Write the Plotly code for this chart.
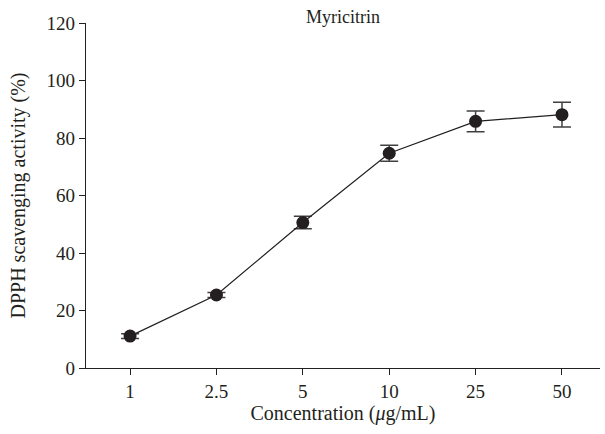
import plotly.graph_objects as go

concentrations = ["1", "2.5", "5", "10", "25", "50"]
activity = [11.1, 25.4, 50.6, 74.7, 85.8, 88.1]
error = [0.8, 0.9, 2.2, 2.8, 3.6, 4.3]

fig = go.Figure()
fig.add_trace(go.Scatter(
    x=concentrations, y=activity,
    mode="lines+markers",
    line=dict(color="#231f20", width=1.2),
    marker=dict(color="#231f20", size=13),
    error_y=dict(type="data", array=error, visible=True, color="#404040", thickness=1.5, width=9),
    showlegend=False,
))

font_family = "Liberation Serif, Times New Roman, serif"
fig.update_layout(
    width=605, height=434,
    margin=dict(l=86, r=5, t=23, b=66),
    paper_bgcolor="white", plot_bgcolor="white",
    font=dict(family=font_family, size=19, color="#231f20"),
    annotations=[dict(text="Myricitrin", xref="paper", yref="paper", x=0.5, y=1.017,
                      xanchor="center", yanchor="middle", showarrow=False,
                      font=dict(family=font_family, size=18, color="#231f20"))],
)
fig.update_xaxes(
    type="category", range=[-0.51, 5.44],
    showline=True, linecolor="#231f20", linewidth=1.2,
    ticks="outside", ticklen=6, tickcolor="#231f20",
    tickfont=dict(size=19),
    showgrid=False, zeroline=False,
    title=dict(text="Concentration (<i>μ</i>g/mL)", standoff=5, font=dict(size=20)),
)
fig.update_yaxes(
    range=[0, 120], tickvals=[0, 20, 40, 60, 80, 100, 120],
    showline=True, linecolor="#231f20", linewidth=1.2,
    ticks="outside", ticklen=6, tickcolor="#231f20",
    tickfont=dict(size=19),
    showgrid=False, zeroline=False,
    title=dict(text="DPPH scavenging activity (%)", standoff=15, font=dict(size=20)),
)
fig.write_html("out.html", config={"displayModeBar": False},
               post_script="document.body.style.margin='0';")
